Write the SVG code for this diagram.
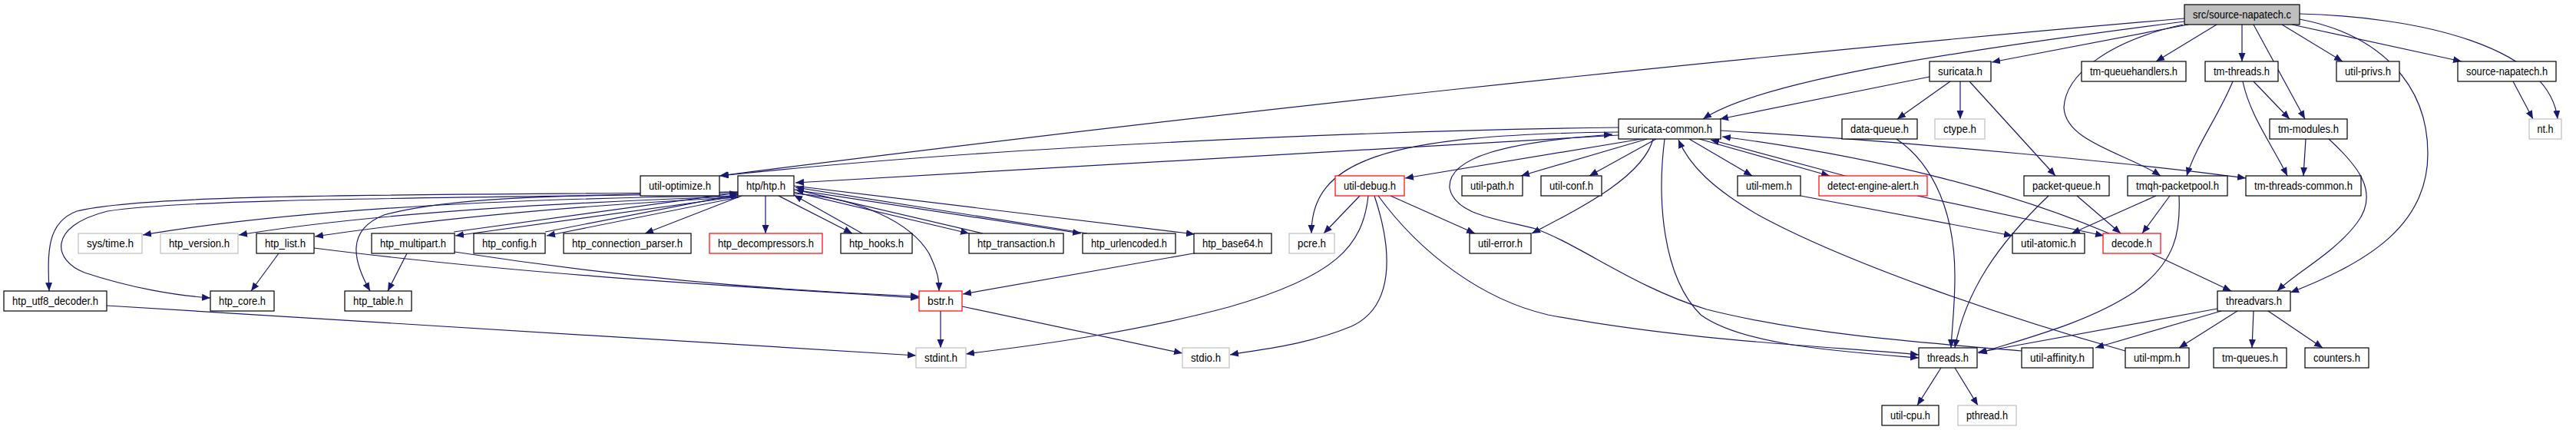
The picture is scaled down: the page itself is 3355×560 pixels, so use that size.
<svg xmlns="http://www.w3.org/2000/svg" width="3355" height="560" viewBox="0 0 3355 560">
<style>
rect{fill:#fff;stroke:#000;stroke-width:1.2}
.g rect{stroke:#bfbfbf}
.r rect{stroke:#ff0000}
.root rect{fill:#bfbfbf}
text{font-family:"Liberation Sans",Arial,sans-serif;font-size:14px;text-anchor:middle;fill:#000}
#edges path{fill:none;stroke:#191970;stroke-width:1.2;marker-end:url(#a)}
</style>
<defs>
<marker id="a" markerWidth="12" markerHeight="10" refX="11" refY="5" orient="auto" markerUnits="userSpaceOnUse"><path d="M0,0.5 L11,5 L0,9.5 z" fill="#191970"/></marker>
</defs>
<rect x="0" y="0" width="3355" height="560" style="fill:#fff;stroke:none"/>
<g id="edges">
<path d="M2850,32 L2594,81"/>
<path d="M2887,32 L2808,80"/>
<path d="M2920,32 L2920,80"/>
<path d="M2972,32 L3051,80"/>
<path d="M2985,32 L3206,80"/>
<path d="M2995,18 C3150,22 3320,60 3331,155"/>
<path d="M2935,32 L3002,155"/>
<path d="M2995,25 C3100,45 3162,110 3162,200 C3162,290 3090,340 2983,381"/>
<path d="M2845,28 C2600,60 2300,100 2218,155"/>
<path d="M2845,24 C2245,75 1537,152 937,229"/>
<path d="M2843,32 C2740,55 2690,100 2688,140 C2690,185 2770,200 2814,229"/>
<path d="M2513,100 L2240,155"/>
<path d="M2540,106 L2471,155"/>
<path d="M2553,106 L2553,155"/>
<path d="M2565,106 L2677,229"/>
<path d="M2935,106 L2982,155"/>
<path d="M2908,106 C2890,150 2860,190 2848,229"/>
<path d="M2921,106 C2930,150 2960,190 2979,229"/>
<path d="M3273,106 L3299,155"/>
<path d="M3003,181 L3000,229"/>
<path d="M3033,181 C3070,215 3100,250 3070,290 C3040,330 2990,355 2966,379"/>
<path d="M2470,181 C2520,215 2546,280 2546,360 C2546,400 2542,430 2541,453"/>
<path d="M2108,166 C1800,170 1300,190 938,229"/>
<path d="M2108,176 L1036,238"/>
<path d="M2108,172 C1800,175 1708,210 1708,304"/>
<path d="M2138,181 L1830,232"/>
<path d="M2145,181 L1981,229"/>
<path d="M2157,181 L2070,229"/>
<path d="M2153,181 C2140,230 2060,270 1995,304"/>
<path d="M2168,181 C2158,260 2165,360 2215,410 C2270,450 2400,458 2499,466"/>
<path d="M2768,457 C2600,410 2400,340 2290,280 C2230,245 2200,215 2186,182"/>
<path d="M2200,181 L2282,229"/>
<path d="M2213,181 L2383,229"/>
<path d="M2403,229 L2228,182"/>
<path d="M2747,304 C2620,250 2450,205 2243,178"/>
<path d="M2241,170 C2500,185 2800,215 2925,232"/>
<path d="M2633,457 C2500,446 2350,435 2223,403 C2130,375 2060,320 2000,298 C1950,285 1895,280 1888,245 C1885,205 1960,185 2100,175"/>
<path d="M2497,255 L2740,307"/>
<path d="M2345,255 L2621,307"/>
<path d="M2705,255 L2762,304"/>
<path d="M2668,255 C2600,320 2560,380 2546,453"/>
<path d="M2808,255 L2698,304"/>
<path d="M2826,255 L2790,304"/>
<path d="M2838,255 C2840,300 2835,340 2780,380 C2720,420 2640,440 2577,460"/>
<path d="M2802,330 L2906,379"/>
<path d="M2888,402 L2576,459"/>
<path d="M2893,405 L2729,453"/>
<path d="M2914,405 L2838,453"/>
<path d="M2935,405 L2933,453"/>
<path d="M2954,405 L3025,453"/>
<path d="M2528,479 L2497,528"/>
<path d="M2546,479 L2576,528"/>
<path d="M1771,255 L1724,304"/>
<path d="M1811,255 L1921,304"/>
<path d="M1782,255 C1775,320 1740,360 1600,400 C1450,440 1300,455 1258,461"/>
<path d="M1790,255 C1815,330 1815,400 1760,425 C1700,450 1640,455 1602,462"/>
<path d="M1795,255 C1850,330 1930,390 2016,410 C2200,445 2400,452 2499,462"/>
<path d="M997,255 L997,304"/>
<path d="M1014,255 L1110,304"/>
<path d="M1123,304 L1034,254"/>
<path d="M1034,250 L1262,304"/>
<path d="M1280,304 L1036,247"/>
<path d="M1034,247 L1408,304"/>
<path d="M1416,304 L1036,244"/>
<path d="M1034,242 L1556,305"/>
<path d="M1034,252 C1121,258 1186,290 1210,330 C1222,355 1223,365 1223,379"/>
<path d="M966,255 L840,304"/>
<path d="M962,257 L712,307"/>
<path d="M710,302 L962,253"/>
<path d="M961,256 L593,307"/>
<path d="M591,302 L961,251"/>
<path d="M961,257 C800,265 600,280 410,308"/>
<path d="M961,256 C780,262 500,275 311,306"/>
<path d="M961,255 C700,258 400,270 186,306"/>
<path d="M961,250 C700,255 580,258 500,280 C450,300 460,340 482,379"/>
<path d="M961,250 C600,255 200,250 100,275 C60,290 62,330 64,379"/>
<path d="M961,252 C600,258 250,258 140,275 C60,295 70,340 110,355 C170,375 230,385 274,388"/>
<path d="M363,330 L327,379"/>
<path d="M530,330 L505,379"/>
<path d="M409,323 C700,360 1000,375 1197,388"/>
<path d="M592,328 C800,360 1000,378 1197,386"/>
<path d="M1560,329 L1254,383"/>
<path d="M1225,405 L1225,453"/>
<path d="M1253,399 L1540,460"/>
<path d="M139,398 L1193,463"/>
</g>
<g id="src_source_napatech_c" class="root"><rect x="2845" y="6" width="150" height="26"/><text x="2920" y="24" textLength="128" lengthAdjust="spacingAndGlyphs">src/source-napatech.c</text></g>
<g id="suricata_h"><rect x="2513" y="80" width="80" height="26"/><text x="2553" y="98" textLength="58" lengthAdjust="spacingAndGlyphs">suricata.h</text></g>
<g id="tm_queuehandlers_h"><rect x="2711" y="80" width="136" height="26"/><text x="2779" y="98" textLength="114" lengthAdjust="spacingAndGlyphs">tm-queuehandlers.h</text></g>
<g id="tm_threads_h"><rect x="2872" y="80" width="95" height="26"/><text x="2919.5" y="98" textLength="73" lengthAdjust="spacingAndGlyphs">tm-threads.h</text></g>
<g id="util_privs_h"><rect x="3043" y="80" width="82" height="26"/><text x="3084" y="98" textLength="60" lengthAdjust="spacingAndGlyphs">util-privs.h</text></g>
<g id="source_napatech_h"><rect x="3201" y="80" width="128" height="26"/><text x="3265" y="98" textLength="106" lengthAdjust="spacingAndGlyphs">source-napatech.h</text></g>
<g id="suricata_common_h"><rect x="2108" y="155" width="133" height="26"/><text x="2174.5" y="173" textLength="111" lengthAdjust="spacingAndGlyphs">suricata-common.h</text></g>
<g id="data_queue_h"><rect x="2399" y="155" width="98" height="26"/><text x="2448" y="173" textLength="76" lengthAdjust="spacingAndGlyphs">data-queue.h</text></g>
<g id="ctype_h" class="g"><rect x="2520" y="155" width="65" height="26"/><text x="2552.5" y="173" textLength="43" lengthAdjust="spacingAndGlyphs">ctype.h</text></g>
<g id="tm_modules_h"><rect x="2956" y="155" width="101" height="26"/><text x="3006.5" y="173" textLength="79" lengthAdjust="spacingAndGlyphs">tm-modules.h</text></g>
<g id="nt_h" class="g"><rect x="3294" y="155" width="42" height="26"/><text x="3315" y="173" textLength="21" lengthAdjust="spacingAndGlyphs">nt.h</text></g>
<g id="util_optimize_h"><rect x="834" y="229" width="103" height="26"/><text x="885.5" y="247" textLength="81" lengthAdjust="spacingAndGlyphs">util-optimize.h</text></g>
<g id="htp_htp_h"><rect x="961" y="229" width="73" height="26"/><text x="997.5" y="247" textLength="51" lengthAdjust="spacingAndGlyphs">htp/htp.h</text></g>
<g id="util_debug_h" class="r"><rect x="1739" y="229" width="90" height="26"/><text x="1784" y="247" textLength="68" lengthAdjust="spacingAndGlyphs">util-debug.h</text></g>
<g id="util_path_h"><rect x="1904" y="229" width="79" height="26"/><text x="1943.5" y="247" textLength="57" lengthAdjust="spacingAndGlyphs">util-path.h</text></g>
<g id="util_conf_h"><rect x="2007" y="229" width="79" height="26"/><text x="2046.5" y="247" textLength="57" lengthAdjust="spacingAndGlyphs">util-conf.h</text></g>
<g id="util_mem_h"><rect x="2263" y="229" width="82" height="26"/><text x="2304" y="247" textLength="60" lengthAdjust="spacingAndGlyphs">util-mem.h</text></g>
<g id="detect_engine_alert_h" class="r"><rect x="2369" y="229" width="141" height="26"/><text x="2439.5" y="247" textLength="119" lengthAdjust="spacingAndGlyphs">detect-engine-alert.h</text></g>
<g id="packet_queue_h"><rect x="2636" y="229" width="111" height="26"/><text x="2691.5" y="247" textLength="89" lengthAdjust="spacingAndGlyphs">packet-queue.h</text></g>
<g id="tmqh_packetpool_h"><rect x="2771" y="229" width="130" height="26"/><text x="2836" y="247" textLength="108" lengthAdjust="spacingAndGlyphs">tmqh-packetpool.h</text></g>
<g id="tm_threads_common_h"><rect x="2925" y="229" width="150" height="26"/><text x="3000" y="247" textLength="128" lengthAdjust="spacingAndGlyphs">tm-threads-common.h</text></g>
<g id="sys_time_h" class="g"><rect x="102" y="304" width="83" height="26"/><text x="143.5" y="322" textLength="61" lengthAdjust="spacingAndGlyphs">sys/time.h</text></g>
<g id="htp_version_h" class="g"><rect x="209" y="304" width="101" height="26"/><text x="259.5" y="322" textLength="79" lengthAdjust="spacingAndGlyphs">htp_version.h</text></g>
<g id="htp_list_h"><rect x="334" y="304" width="75" height="26"/><text x="371.5" y="322" textLength="53" lengthAdjust="spacingAndGlyphs">htp_list.h</text></g>
<g id="htp_multipart_h"><rect x="484" y="304" width="108" height="26"/><text x="538" y="322" textLength="86" lengthAdjust="spacingAndGlyphs">htp_multipart.h</text></g>
<g id="htp_config_h"><rect x="617" y="304" width="93" height="26"/><text x="663.5" y="322" textLength="71" lengthAdjust="spacingAndGlyphs">htp_config.h</text></g>
<g id="htp_connection_parser_h"><rect x="734" y="304" width="166" height="26"/><text x="817" y="322" textLength="144" lengthAdjust="spacingAndGlyphs">htp_connection_parser.h</text></g>
<g id="htp_decompressors_h" class="r"><rect x="924" y="304" width="147" height="26"/><text x="997.5" y="322" textLength="125" lengthAdjust="spacingAndGlyphs">htp_decompressors.h</text></g>
<g id="htp_hooks_h"><rect x="1095" y="304" width="93" height="26"/><text x="1141.5" y="322" textLength="71" lengthAdjust="spacingAndGlyphs">htp_hooks.h</text></g>
<g id="htp_transaction_h"><rect x="1262" y="304" width="123" height="26"/><text x="1323.5" y="322" textLength="101" lengthAdjust="spacingAndGlyphs">htp_transaction.h</text></g>
<g id="htp_urlencoded_h"><rect x="1410" y="304" width="121" height="26"/><text x="1470.5" y="322" textLength="99" lengthAdjust="spacingAndGlyphs">htp_urlencoded.h</text></g>
<g id="htp_base64_h"><rect x="1555" y="304" width="101" height="26"/><text x="1605.5" y="322" textLength="79" lengthAdjust="spacingAndGlyphs">htp_base64.h</text></g>
<g id="pcre_h" class="g"><rect x="1679" y="304" width="59" height="26"/><text x="1708.5" y="322" textLength="37" lengthAdjust="spacingAndGlyphs">pcre.h</text></g>
<g id="util_error_h"><rect x="1914" y="304" width="80" height="26"/><text x="1954" y="322" textLength="58" lengthAdjust="spacingAndGlyphs">util-error.h</text></g>
<g id="util_atomic_h"><rect x="2621" y="304" width="94" height="26"/><text x="2668" y="322" textLength="72" lengthAdjust="spacingAndGlyphs">util-atomic.h</text></g>
<g id="decode_h" class="r"><rect x="2739" y="304" width="75" height="26"/><text x="2776.5" y="322" textLength="53" lengthAdjust="spacingAndGlyphs">decode.h</text></g>
<g id="htp_utf8_decoder_h"><rect x="5" y="379" width="134" height="26"/><text x="72" y="397" textLength="112" lengthAdjust="spacingAndGlyphs">htp_utf8_decoder.h</text></g>
<g id="htp_core_h"><rect x="274" y="379" width="83" height="26"/><text x="315.5" y="397" textLength="61" lengthAdjust="spacingAndGlyphs">htp_core.h</text></g>
<g id="htp_table_h"><rect x="449" y="379" width="87" height="26"/><text x="492.5" y="397" textLength="65" lengthAdjust="spacingAndGlyphs">htp_table.h</text></g>
<g id="bstr_h" class="r"><rect x="1197" y="379" width="56" height="26"/><text x="1225" y="397" textLength="34" lengthAdjust="spacingAndGlyphs">bstr.h</text></g>
<g id="threadvars_h"><rect x="2888" y="379" width="95" height="26"/><text x="2935.5" y="397" textLength="73" lengthAdjust="spacingAndGlyphs">threadvars.h</text></g>
<g id="stdint_h" class="g"><rect x="1193" y="453" width="65" height="26"/><text x="1225.5" y="471" textLength="43" lengthAdjust="spacingAndGlyphs">stdint.h</text></g>
<g id="stdio_h" class="g"><rect x="1540" y="453" width="61" height="26"/><text x="1570.5" y="471" textLength="39" lengthAdjust="spacingAndGlyphs">stdio.h</text></g>
<g id="threads_h"><rect x="2499" y="453" width="76" height="26"/><text x="2537" y="471" textLength="54" lengthAdjust="spacingAndGlyphs">threads.h</text></g>
<g id="util_affinity_h"><rect x="2633" y="453" width="93" height="26"/><text x="2679.5" y="471" textLength="71" lengthAdjust="spacingAndGlyphs">util-affinity.h</text></g>
<g id="util_mpm_h"><rect x="2768" y="453" width="83" height="26"/><text x="2809.5" y="471" textLength="61" lengthAdjust="spacingAndGlyphs">util-mpm.h</text></g>
<g id="tm_queues_h"><rect x="2883" y="453" width="95" height="26"/><text x="2930.5" y="471" textLength="73" lengthAdjust="spacingAndGlyphs">tm-queues.h</text></g>
<g id="counters_h"><rect x="3002" y="453" width="83" height="26"/><text x="3043.5" y="471" textLength="61" lengthAdjust="spacingAndGlyphs">counters.h</text></g>
<g id="util_cpu_h"><rect x="2451" y="528" width="74" height="26"/><text x="2488" y="546" textLength="52" lengthAdjust="spacingAndGlyphs">util-cpu.h</text></g>
<g id="pthread_h" class="g"><rect x="2550" y="528" width="76" height="26"/><text x="2588" y="546" textLength="54" lengthAdjust="spacingAndGlyphs">pthread.h</text></g>
</svg>
